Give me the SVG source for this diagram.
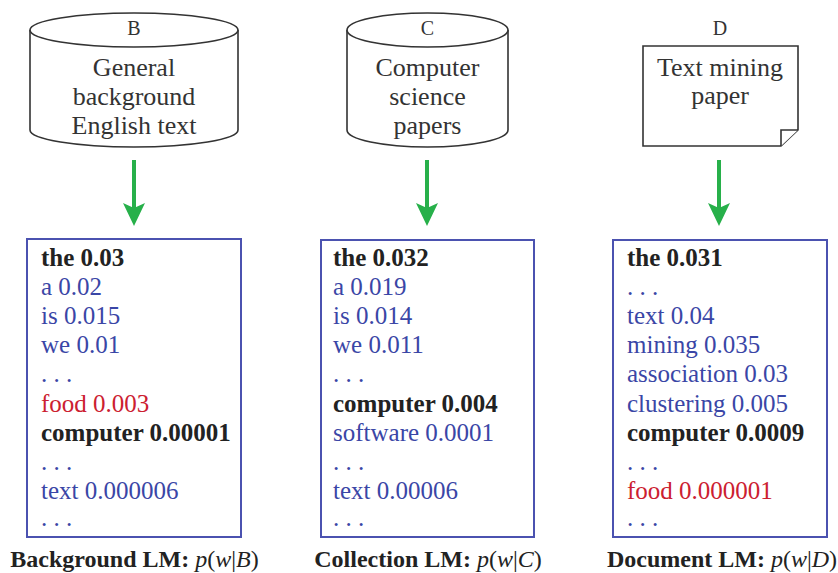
<svg xmlns="http://www.w3.org/2000/svg" width="838" height="573" viewBox="0 0 838 573">
<defs>
<style>
.shape{fill:#fff;stroke:#333;stroke-width:1.6}
.t{font-family:"Liberation Serif","Times New Roman",serif;fill:#333}
.big{font-size:26px;text-anchor:middle}
.let{font-size:20px;text-anchor:middle}
.box{fill:#fff;stroke:#4b52b0;stroke-width:2}
.li{font-family:"Liberation Serif","Times New Roman",serif;font-size:25px}
.k{fill:#222;font-weight:bold}
.b{fill:#3a46a6}
.r{fill:#cc2030}
.lab{font-family:"Liberation Serif","Times New Roman",serif;font-size:24px;fill:#222;text-anchor:middle}
.m{font-style:italic;font-weight:normal}
.u{font-style:normal;font-weight:normal}
.arr{stroke:#27b04a;stroke-width:4;fill:none}
.head{fill:#27b04a}
</style>
</defs>

<g id="nodeB">
<path class="shape" d="M30,30 L30,130 A104,17 0 0 0 238,130 L238,30"/>
<ellipse class="shape" cx="134" cy="30" rx="104" ry="17"/>
<text class="t let" x="134" y="35">B</text>
<text class="t big" x="134" y="76">General</text>
<text class="t big" x="134" y="105">background</text>
<text class="t big" x="134" y="134">English text</text>
</g>

<g id="nodeC">
<path class="shape" d="M347,30 L347,130 A80.5,17 0 0 0 508,130 L508,30"/>
<ellipse class="shape" cx="427.5" cy="30" rx="80.5" ry="17"/>
<text class="t let" x="427.5" y="35">C</text>
<text class="t big" x="427.5" y="76">Computer</text>
<text class="t big" x="427.5" y="105">science</text>
<text class="t big" x="427.5" y="134">papers</text>
</g>

<g id="nodeD">
<text class="t let" x="720" y="35">D</text>
<path class="shape" d="M643,46 L798,46 L798,130 L781,146 L643,146 Z"/>
<path class="shape" d="M781,146 L781,130 L798,130" fill="none"/>
<text class="t big" x="720" y="76">Text mining</text>
<text class="t big" x="720" y="104">paper</text>
</g>

<g id="connectors">
<line class="arr" x1="134" y1="160" x2="134" y2="208"/>
<path class="head" d="M123,203 L134,208 L145,203 L134,226 Z"/>
<line class="arr" x1="427" y1="160" x2="427" y2="208"/>
<path class="head" d="M416,203 L427,208 L438,203 L427,226 Z"/>
<line class="arr" x1="719" y1="160" x2="719" y2="208"/>
<path class="head" d="M708,203 L719,208 L730,203 L719,226 Z"/>
</g>

<g id="lmB">
<rect class="box" x="27" y="239" width="214" height="298"/>
<g class="li">
<text class="k" x="41" y="266">the 0.03</text>
<text class="b" x="41" y="295">a 0.02</text>
<text class="b" x="41" y="324">is 0.015</text>
<text class="b" x="41" y="353">we 0.01</text>
<text class="b" x="41" y="382">. . .</text>
<text class="r" x="41" y="412">food 0.003</text>
<text class="k" x="41" y="441">computer 0.00001</text>
<text class="b" x="41" y="470">. . .</text>
<text class="b" x="41" y="499">text 0.000006</text>
<text class="b" x="41" y="526">. . .</text>
</g>
<text class="lab" x="134.5" y="567"><tspan font-weight="bold">Background LM: </tspan><tspan class="m">p</tspan><tspan class="u">(</tspan><tspan class="m">w</tspan><tspan class="u">|</tspan><tspan class="m">B</tspan><tspan class="u">)</tspan></text>
</g>

<g id="lmC">
<rect class="box" x="321" y="240" width="213" height="297"/>
<g class="li">
<text class="k" x="333" y="266">the 0.032</text>
<text class="b" x="333" y="295">a 0.019</text>
<text class="b" x="333" y="324">is 0.014</text>
<text class="b" x="333" y="353">we 0.011</text>
<text class="b" x="333" y="382">. . .</text>
<text class="k" x="333" y="412">computer 0.004</text>
<text class="b" x="333" y="441">software 0.0001</text>
<text class="b" x="333" y="470">. . .</text>
<text class="b" x="333" y="499">text 0.00006</text>
<text class="b" x="333" y="526">. . .</text>
</g>
<text class="lab" x="428" y="567"><tspan font-weight="bold">Collection LM: </tspan><tspan class="m">p</tspan><tspan class="u">(</tspan><tspan class="m">w</tspan><tspan class="u">|</tspan><tspan class="m">C</tspan><tspan class="u">)</tspan></text>
</g>

<g id="lmD">
<rect class="box" x="613" y="240" width="214" height="297"/>
<g class="li">
<text class="k" x="627" y="266">the 0.031</text>
<text class="b" x="627" y="295">. . .</text>
<text class="b" x="627" y="324">text 0.04</text>
<text class="b" x="627" y="353">mining 0.035</text>
<text class="b" x="627" y="382">association 0.03</text>
<text class="b" x="627" y="412">clustering 0.005</text>
<text class="k" x="627" y="441">computer 0.0009</text>
<text class="b" x="627" y="470">. . .</text>
<text class="r" x="627" y="499">food 0.000001</text>
<text class="b" x="627" y="526">. . .</text>
</g>
<text class="lab" x="722" y="567"><tspan font-weight="bold">Document LM: </tspan><tspan class="m">p</tspan><tspan class="u">(</tspan><tspan class="m">w</tspan><tspan class="u">|</tspan><tspan class="m">D</tspan><tspan class="u">)</tspan></text>
</g>
</svg>
